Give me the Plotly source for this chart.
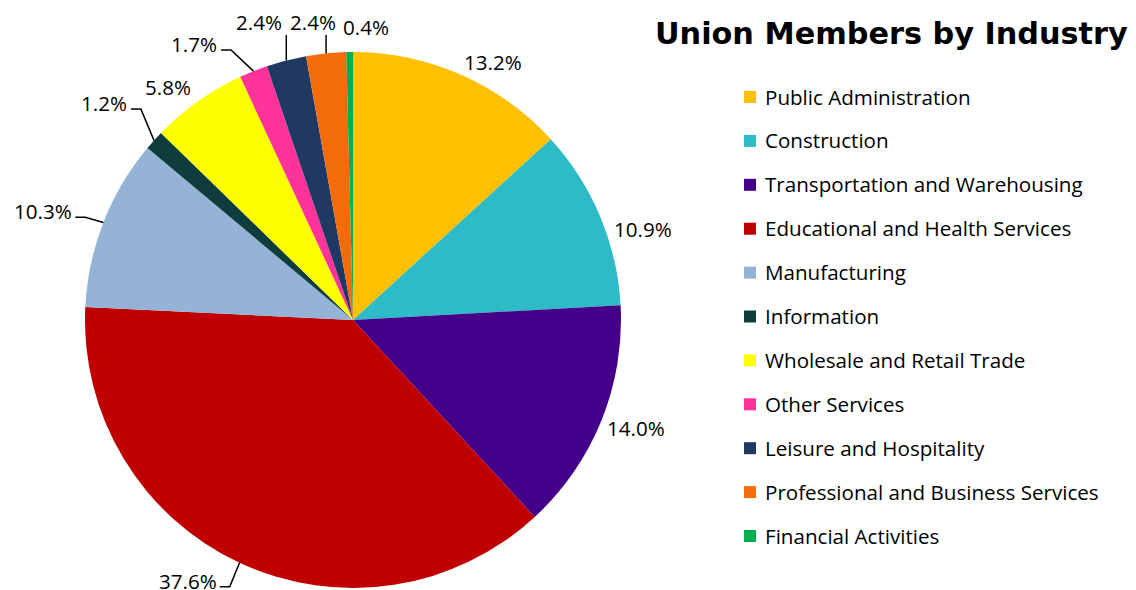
import math
import plotly.graph_objects as go

# ---------------- data ----------------
industries = [
    "Public Administration",
    "Construction",
    "Transportation and Warehousing",
    "Educational and Health Services",
    "Manufacturing",
    "Information",
    "Wholesale and Retail Trade",
    "Other Services",
    "Leisure and Hospitality",
    "Professional and Business Services",
    "Financial Activities",
]
shares = [13.2, 10.9, 14.0, 37.6, 10.3, 1.2, 5.8, 1.7, 2.4, 2.4, 0.4]
title_text = "Union Members by Industry"

# ---------------- style ----------------
colors = ["#FFC000", "#2CBBC7", "#440088", "#C00000", "#95B3D7", "#0F3D3D",
          "#FFFF00", "#FF3399", "#1F3864", "#F46B0A", "#00B050"]
# label placement tweaks (angle shift in deg, gap from pie edge in px, leader line)
lab_shift = [4.8, 5.3, -1.1, 7.3, -2.0, -1.0, -3.1, -8.1, -3.1, -1.8, 3.3]
lab_gap = [4, 9, 8, 18, 33, 40, 8.5, 31, 28, 19, 13]
lab_leader = [False, False, False, True, True, True, False, True, True, True, False]

W, H = 1136, 590
OFF = 8  # page body margin
CX, CY, R = 353, 320, 268
FONT = "Open Sans"
TXT = 20.6

def px(x):
    return (x - OFF) / W

def py(y):
    return 1 - (y - OFF) / H

fig = go.Figure()
fig.add_trace(go.Pie(
    labels=industries, values=shares, sort=False, direction="clockwise",
    rotation=0, marker=dict(colors=colors, line=dict(width=0)),
    textinfo="none", showlegend=False,
    domain=dict(x=[px(CX - R), px(CX + R)], y=[py(CY + R), py(CY - R)]),
))

total = sum(shares)
cum = 0.0
annotations = []
shapes = []

def text_w(s):
    w = 0
    for ch in s:
        if ch.isdigit():
            w += 10.1
        elif ch == ".":
            w += 5
        elif ch == "%":
            w += 14.3
    return w

for i, v in enumerate(shares):
    mid = (cum + v / 2) / total * 360
    cum += v
    label = f"{v:.1f}%"
    w, h = text_w(label), 22
    phi = math.radians(mid + lab_shift[i])
    ext = abs(math.sin(phi)) * w / 2 + abs(math.cos(phi)) * h / 2
    d = R + lab_gap[i] + ext
    lx = CX + d * math.sin(phi)
    ly = CY - d * math.cos(phi)
    annotations.append(dict(
        x=px(lx), y=py(ly), xref="paper", yref="paper", text=label,
        showarrow=False, xanchor="center", yanchor="middle",
        font=dict(family=FONT, size=TXT, color="#000000"),
    ))
    if lab_leader[i]:
        th = math.radians(mid)
        ex = CX + R * math.sin(th)
        ey = CY - R * math.cos(th)
        bx0, bx1 = lx - w / 2, lx + w / 2
        if bx0 - 8 <= ex <= bx1 + 8:
            ty = ly + h / 2 + 2 if ey > ly else ly - h / 2 - 2
            path = f"M{px(ex)},{py(ey)} L{px(ex)},{py(ty)}"
        else:
            s = 1 if ex > bx1 else -1
            side = bx1 if s > 0 else bx0
            yy = ly + 6
            path = (f"M{px(ex)},{py(ey)} L{px(side + s * 17)},{py(yy)} "
                    f"L{px(side + s * 7)},{py(yy)}")
        shapes.append(dict(type="path", path=path, xref="paper", yref="paper",
                           line=dict(color="#000000", width=1.5)))

# manual legend
LX, LY0, LDY = 744, 97, 43.9
for i, name in enumerate(industries):
    yc = LY0 + LDY * i
    shapes.append(dict(type="rect", xref="paper", yref="paper",
                       x0=px(LX), x1=px(LX + 12), y0=py(yc - 6), y1=py(yc + 6),
                       fillcolor=colors[i], line=dict(width=0)))
    annotations.append(dict(
        x=px(LX + 19), y=py(yc - 0.5), xref="paper", yref="paper", text=name,
        showarrow=False, xanchor="left", yanchor="middle",
        font=dict(family=FONT, size=TXT, color="#000000"),
    ))

annotations.append(dict(
    x=px(891), y=py(33), xref="paper", yref="paper",
    text=f"<b>{title_text}</b>", showarrow=False, xanchor="center", yanchor="middle",
    font=dict(family="DejaVu Sans", size=30.3, color="#000000"),
))

fig.update_layout(
    width=W, height=H, margin=dict(l=0, r=0, t=0, b=0),
    paper_bgcolor="#FFFFFF", plot_bgcolor="#FFFFFF",
    annotations=annotations, shapes=shapes, showlegend=False,
)
fig.write_html("out.html")
